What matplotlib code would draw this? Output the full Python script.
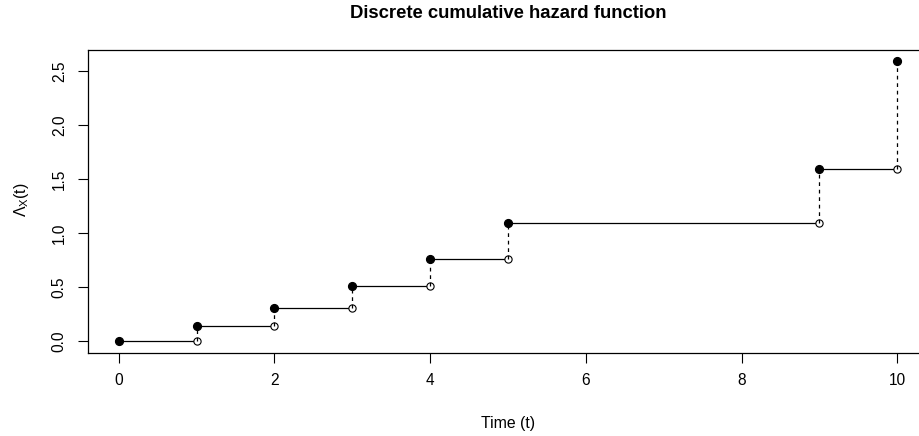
import numpy as np
import matplotlib.pyplot as plt

plt.rcParams['font.family'] = ['Liberation Sans', 'DejaVu Sans']
plt.rcParams['mathtext.fontset'] = 'custom'
plt.rcParams['mathtext.rm'] = 'Liberation Sans'
plt.rcParams['mathtext.it'] = 'Liberation Sans'

# event times and the cumulative hazard reached at each of them
tiempos = [0, 1, 2, 3, 4, 5, 9, 10]
hazard_acum = [0.0, 0.143, 0.310, 0.510, 0.760, 1.093, 1.593, 2.593]

y_ticks = [0.0, 0.5, 1.0, 1.5, 2.0, 2.5]
x_ticks = [0, 2, 4, 6, 8, 10]

fig = plt.figure(figsize=(9.2, 4.36), dpi=100)
ax = fig.add_axes([0.0952, 0.1915, 0.914, 0.694])

t = np.array(tiempos)
h = np.array(hazard_acum)

# escalones horizontales
for i in range(len(t) - 1):
    ax.plot([t[i], t[i + 1]], [h[i], h[i]], color='black', lw=0.9, zorder=1)

# extremo abierto de cada escalon
ax.plot(t[1:], h[:-1], 'o', ms=5.2, mfc='white', mec='black', mew=0.8, zorder=2)

# saltos verticales punteados
for i in range(1, len(t)):
    ax.plot([t[i], t[i]], [h[i - 1], h[i]], color='black', lw=0.9,
            dashes=(3, 3), zorder=3)

# valor alcanzado en cada tiempo
ax.plot(t, h, 'o', ms=5.6, color='black', zorder=4)

ax.set_xlim(-0.4, 10.4)
ax.set_ylim(-0.1037, 2.6967)
ax.set_xticks(x_ticks)
ax.set_yticks(y_ticks)
ax.set_yticklabels([f'{v:.1f}' for v in y_ticks], rotation=90, va='center')
ax.tick_params(axis='both', direction='out', length=7, width=0.8, labelsize=11.2)
ax.tick_params(axis='x', pad=8)
ax.tick_params(axis='y', pad=8)
ax.spines['right'].set_visible(False)
for s in ax.spines.values():
    s.set_linewidth(0.9)

ax.set_xlabel('Time (t)', fontsize=11.4)
ax.set_ylabel(r'$\Lambda_{\mathrm{X}}\mathrm{(t)}$', fontsize=11.4)
ax.xaxis.set_label_coords(0.5, -0.2088)
ax.yaxis.set_label_coords(-0.0673, 0.504)

fig.text(508 / 920, 1 - 13 / 436, 'Discrete cumulative hazard function',
         ha='center', va='center', fontsize=13.3, fontweight='bold')

fig.savefig('out.png', dpi=100)
